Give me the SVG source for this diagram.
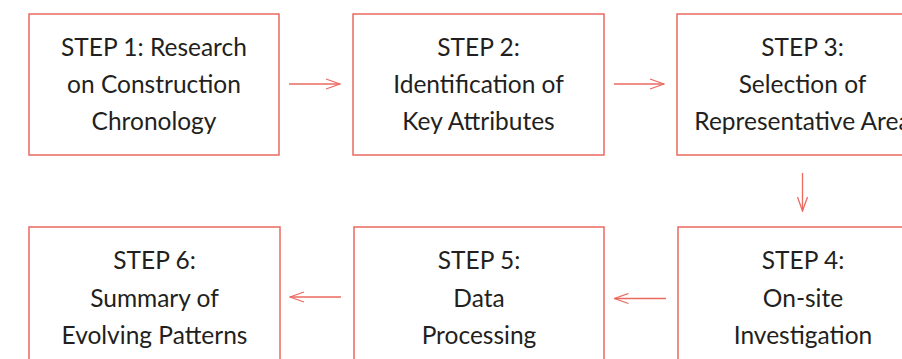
<svg xmlns="http://www.w3.org/2000/svg" width="902" height="359" viewBox="0 0 902 359">
  <style>
    .box { fill: #ffffff; stroke: #ea6a60; stroke-width: 1.5; }
    .lbl { font-family: Lato, "Open Sans", "Liberation Sans", sans-serif; font-size: 24.5px; fill: #231f20; text-anchor: middle; }
    .conn { stroke: #ea6a60; stroke-width: 1.3; fill: none; }
  </style>
  <defs>
    <marker id="chev" viewBox="0 0 16 12" refX="15" refY="6" markerWidth="16" markerHeight="12" markerUnits="userSpaceOnUse" orient="auto">
      <path d="M1,1 L15,6 L1,11" fill="none" stroke="#ea6a60" stroke-width="1.3"/>
    </marker>
  </defs>
  <rect width="902" height="359" fill="#ffffff"/>

  <g id="step1">
    <rect class="box" x="29" y="14" width="250" height="141"/>
    <text class="lbl" x="154" y="56">STEP 1: Research</text>
    <text class="lbl" x="154" y="93">on Construction</text>
    <text class="lbl" x="154" y="130">Chronology</text>
  </g>
  <g id="step2">
    <rect class="box" x="353" y="14" width="251" height="141"/>
    <text class="lbl" x="478.5" y="56">STEP 2:</text>
    <text class="lbl" x="478.5" y="93">Identification of</text>
    <text class="lbl" x="478.5" y="130">Key Attributes</text>
  </g>
  <g id="step3">
    <rect class="box" x="677" y="14" width="251" height="141"/>
    <text class="lbl" x="802.5" y="56">STEP 3:</text>
    <text class="lbl" x="802.5" y="93">Selection of</text>
    <text class="lbl" x="802.5" y="130">Representative Area</text>
  </g>
  <g id="step4">
    <rect class="box" x="678" y="227" width="251" height="141"/>
    <text class="lbl" x="803" y="269">STEP 4:</text>
    <text class="lbl" x="803" y="307">On-site</text>
    <text class="lbl" x="803" y="344">Investigation</text>
  </g>
  <g id="step5">
    <rect class="box" x="354" y="227" width="250" height="141"/>
    <text class="lbl" x="479" y="269">STEP 5:</text>
    <text class="lbl" x="479" y="307">Data</text>
    <text class="lbl" x="479" y="344">Processing</text>
  </g>
  <g id="step6">
    <rect class="box" x="29" y="227" width="251" height="141"/>
    <text class="lbl" x="154.5" y="269">STEP 6:</text>
    <text class="lbl" x="154.5" y="307">Summary of</text>
    <text class="lbl" x="154.5" y="344">Evolving Patterns</text>
  </g>

  <g id="connectors">
    <line class="conn" x1="289" y1="84" x2="340" y2="84" marker-end="url(#chev)"/>
    <line class="conn" x1="614" y1="84" x2="664" y2="84" marker-end="url(#chev)"/>
    <line class="conn" x1="802.5" y1="173" x2="802.5" y2="211" marker-end="url(#chev)"/>
    <line class="conn" x1="666" y1="298.5" x2="614.5" y2="298.5" marker-end="url(#chev)"/>
    <line class="conn" x1="341" y1="297" x2="290" y2="297" marker-end="url(#chev)"/>
  </g>
</svg>
